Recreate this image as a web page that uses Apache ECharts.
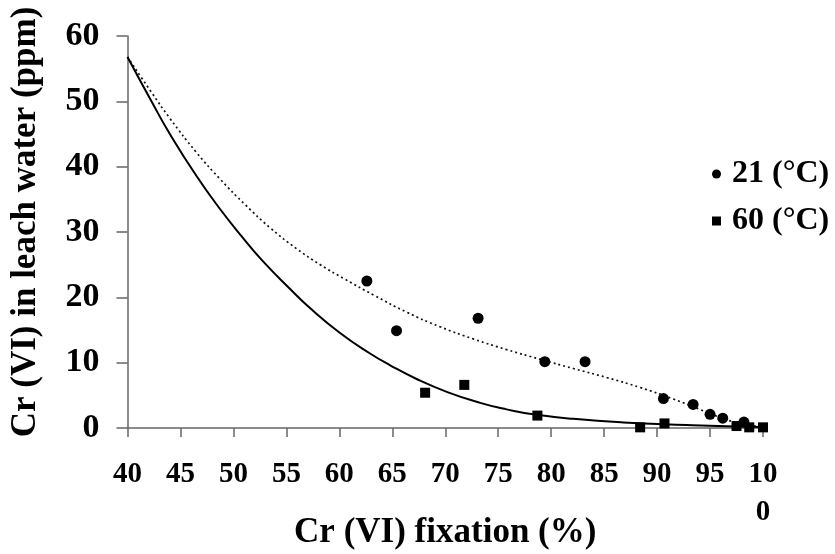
<!DOCTYPE html>
<html>
<head>
<meta charset="utf-8">
<script src="https://cdn.jsdelivr.net/npm/echarts@6/dist/echarts.min.js"></script>
<style>
  html, body { margin: 0; padding: 0; background: #fff; }
  #chart { width: 835px; height: 554px; }
</style>
</head>
<body>
<div id="chart"></div>
<script>
// Measured leach concentrations, Cr(VI) fixation (%) vs Cr(VI) in leach water (ppm)
const series21Names = '21 (°C)';
const series60Names = '60 (°C)';

const fix21 = [62.6, 65.4, 73.1, 79.4, 83.2, 90.6, 93.4, 95.0, 96.2, 98.2];
const cr21  = [22.5, 14.9, 16.8, 10.15, 10.15, 4.5, 3.6, 2.1, 1.5, 0.9];

const fix60 = [68.1, 71.8, 78.7, 88.4, 90.7, 97.5, 98.7, 100];
const cr60  = [5.4, 6.6, 1.9, 0.1, 0.7, 0.3, 0.1, 0.1];

// Fitted trend curves
const trend21X = [40, 42.3, 44.0, 46.5, 48.8, 51.1, 53.5, 56.0, 58.2, 60.5, 63.3, 66.4, 69.5, 72.7, 75.8, 79.0, 82.1, 85.3, 88.4, 91.6, 94.1, 96.0, 97.6, 100];
const trend21Y = [56.8, 51.3, 47.4, 42.2, 38.0, 34.2, 30.6, 27.4, 25.0, 22.8, 20.3, 17.7, 15.5, 13.6, 12.0, 10.5, 9.1, 7.7, 6.2, 4.4, 2.8, 1.6, 0.8, 0.15];

const trend60X = [40, 42.3, 44.0, 46.5, 48.7, 50.8, 52.8, 55.4, 57.2, 60.1, 62.9, 64.8, 67.3, 70.2, 73.3, 75.8, 78.3, 82.1, 86.8, 92.8, 96.6, 100];
const trend60Y = [56.8, 49.9, 45.0, 38.6, 33.6, 29.3, 25.5, 21.2, 18.4, 14.5, 11.4, 9.6, 7.5, 5.5, 3.85, 2.85, 2.1, 1.4, 0.85, 0.45, 0.25, 0.15];

// Axis settings
const xMin = 40, xMax = 100, xStep = 5;
const yMin = 0, yMax = 60, yStep = 10;
const xTitle = 'Cr (VI) fixation (%)';
const yTitle = 'Cr (VI) in leach water (ppm)';

const zip = (a, b) => a.map((v, i) => [v, b[i]]);
const FONT = "'Liberation Serif', 'Times New Roman', serif";

const chart = echarts.init(document.getElementById('chart'), null, { renderer: 'canvas' });
chart.setOption({
  animation: false,
  backgroundColor: '#ffffff',
  textStyle: { fontFamily: FONT, fontWeight: 'bold', color: '#000' },
  grid: { left: 127.5, right: 72, top: 36, bottom: 126, containLabel: false, outerBoundsMode: 'none' },
  legend: {
    orient: 'vertical',
    left: 707,
    top: 153,
    itemGap: 15,
    itemWidth: 9,
    itemHeight: 9,
    data: [
      { name: series21Names, icon: 'circle' },
      { name: series60Names, icon: 'rect' }
    ],
    itemStyle: { color: '#000', opacity: 1 },
    textStyle: { fontFamily: FONT, fontWeight: 'bold', fontSize: 32, color: '#000', padding: [0, 0, 0, 6] }
  },
  xAxis: {
    type: 'value',
    min: xMin, max: xMax, interval: xStep,
    name: xTitle,
    nameLocation: 'middle',
    nameGap: 87,
    nameMoveOverlap: false,
    nameTextStyle: { fontFamily: FONT, fontWeight: 'bold', fontSize: 35, color: '#000' },
    splitLine: { show: false },
    axisLine: { show: true, lineStyle: { color: '#666', width: 1.5 } },
    axisTick: { show: true, inside: false, length: 9, lineStyle: { color: '#666', width: 1.5 } },
    axisLabel: {
      margin: 28,
      fontFamily: FONT, fontWeight: 'bold', fontSize: 29, color: '#000',
      lineHeight: 38,
      formatter: v => (v === 100 ? '10\n0' : String(v))
    }
  },
  yAxis: {
    type: 'value',
    min: yMin, max: yMax, interval: yStep,
    name: yTitle,
    nameLocation: 'middle',
    nameGap: 84,
    nameMoveOverlap: false,
    nameTextStyle: { fontFamily: FONT, fontWeight: 'bold', fontSize: 35, color: '#000', padding: [0, 0, 0, 20] },
    splitLine: { show: false },
    axisLine: { show: true, lineStyle: { color: '#666', width: 1.5 } },
    axisTick: { show: true, inside: false, length: 11, lineStyle: { color: '#666', width: 1.5 } },
    axisLabel: { margin: 28, fontFamily: FONT, fontWeight: 'bold', fontSize: 34, color: '#000' }
  },
  series: [
    {
      name: 'trend21',
      type: 'line',
      data: zip(trend21X, trend21Y),
      smooth: true,
      showSymbol: false,
      symbol: 'none',
      lineStyle: { color: '#111', width: 1.7, type: [2, 3] },
      z: 2,
      silent: true
    },
    {
      name: 'trend60',
      type: 'line',
      data: zip(trend60X, trend60Y),
      smooth: true,
      showSymbol: false,
      symbol: 'none',
      lineStyle: { color: '#000', width: 2 },
      z: 2,
      silent: true
    },
    {
      name: series21Names,
      type: 'scatter',
      data: zip(fix21, cr21),
      symbol: 'circle',
      symbolSize: 11,
      itemStyle: { color: '#000', opacity: 1 },
      clip: false,
      z: 3
    },
    {
      name: series60Names,
      type: 'scatter',
      data: zip(fix60, cr60),
      symbol: 'rect',
      symbolSize: 10,
      itemStyle: { color: '#000', opacity: 1 },
      clip: false,
      z: 3
    }
  ]
});
</script>
</body>
</html>
